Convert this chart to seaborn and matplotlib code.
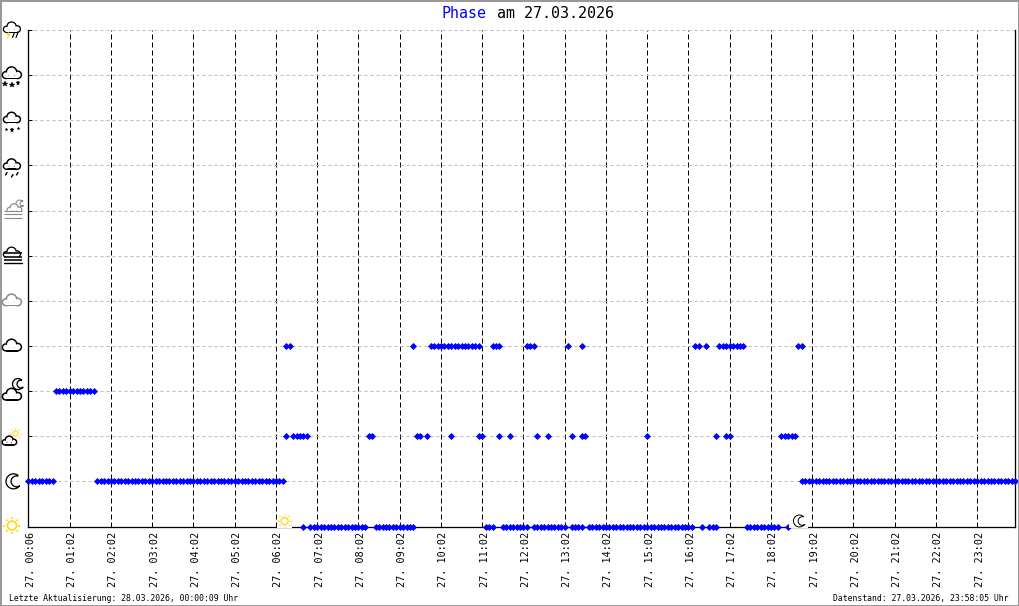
import numpy as np
import pandas as pd
import matplotlib
matplotlib.use("Agg")
import matplotlib.pyplot as plt
from matplotlib.patches import Circle, Rectangle, Polygon
from matplotlib.transforms import ScaledTranslation
import seaborn as sns

# ---- data (sample number, first..last of each run) ----
title_word = "Phase"
title_rest = "am 27.03.2026"
footer_left = "Letzte Aktualisierung: 28.03.2026, 00:00:09 Uhr"
footer_right = "Datenstand: 27.03.2026, 23:58:05 Uhr"
tick_samples = [0, 12, 24, 36, 48, 60, 72, 84, 96, 108, 120, 132, 144, 156, 168,
                180, 192, 204, 216, 228, 240, 252, 264, 276]
tick_labels = ["27. 00:06", "27. 01:02", "27. 02:02", "27. 03:02", "27. 04:02", "27. 05:02",
               "27. 06:02", "27. 07:02", "27. 08:02", "27. 09:02", "27. 10:02", "27. 11:02",
               "27. 12:02", "27. 13:02", "27. 14:02", "27. 15:02", "27. 16:02", "27. 17:02",
               "27. 18:02", "27. 19:02", "27. 20:02", "27. 21:02", "27. 22:02", "27. 23:02"]
clear_day = [(80, 80), (82, 98), (101, 112), (133, 134), (135, 135), (138, 145), (147, 156),
             (158, 161), (163, 193), (196, 196), (198, 200), (209, 218), (221, 221)]
clear_night = [(0, 7), (20, 74), (225, 287)]
partly_day = [(75, 75), (77, 81), (99, 100), (113, 114), (116, 116), (123, 123), (131, 132),
              (137, 137), (140, 140), (148, 148), (151, 151), (158, 158), (161, 162),
              (180, 180), (200, 200), (203, 204), (219, 223)]
partly_night = [(8, 19)]
cloudy = [(75, 76), (112, 112), (117, 131), (135, 137), (145, 147), (157, 157), (161, 161),
          (194, 195), (197, 197), (201, 208), (224, 225)]
phase_runs = {0: clear_day, 1: clear_night, 2: partly_day, 3: partly_night, 4: cloudy}
sunrise_sample = 74.5
sunset_sample = 224

rows = [(s, lvl) for lvl, runs in phase_runs.items()
        for a, b in runs for s in range(a, b + 1)]
df = pd.DataFrame(rows, columns=["sample", "phase"])

# ---- figure ----
sns.set_theme(style="white")
plt.rcParams["font.family"] = ["DejaVu Sans Mono"]
plt.rcParams["lines.scale_dashes"] = False
W, H = 1020, 606
fig = plt.figure(figsize=(W / 100, H / 100), dpi=100, facecolor="white")
L, R, T, B = 28.5, 1015.0, 30.0, 526.5
ax = fig.add_axes([L / W, 1 - B / H, (R - L) / W, (B - T) / H])
px = 0.72

ax.set_xlim(0, 287)
ax.set_ylim(0, 11)
ax.set_axisbelow(True)
ax.set_xticks(tick_samples)
ax.set_xticklabels(tick_labels, rotation=90, fontsize=7.3, color="black", va="top", ha="center")
ax.set_yticks(range(12))
ax.set_yticklabels([])
ax.xaxis.grid(True, color="black", lw=1 * px, linestyle=(0, (5 * px, 3 * px)))
ax.yaxis.grid(True, color="#bbbbbb", lw=1 * px, linestyle=(0, (3 * px, 3 * px)))
ax.tick_params(axis="x", length=0, pad=4.2)
ax.tick_params(axis="y", direction="in", length=3, width=1 * px, color="black", left=True, pad=0)
off = ScaledTranslation(2.5 / 100, 0, fig.dpi_scale_trans)
for lab in ax.get_xticklabels():
    lab.set_transform(lab.get_transform() + off)
ax.spines["top"].set_visible(False)
for side in ("left", "right", "bottom"):
    ax.spines[side].set_color("black")
    ax.spines[side].set_linewidth(1.3 * px)

sns.scatterplot(data=df, x="sample", y="phase", marker="D", s=13, color="#0000ff",
                linewidth=0, clip_on=False, zorder=3, ax=ax, legend=False)
ax.set_xlabel("")
ax.set_ylabel("")

# ---- overlay in pixel coordinates: frame, texts, icons ----
ov = fig.add_axes([0, 0, 1, 1], facecolor="none")
ov.set_xlim(0, W)
ov.set_ylim(H, 0)
ov.axis("off")
ov.add_patch(Rectangle((0.5, 0.5), W - 1, H - 1, fill=False, ec="#999999", lw=2 * px))

ov.text(442, 13.5, title_word, color="#0000ff", fontsize=10.8, va="center", ha="left")
ov.text(497, 13.5, title_rest, color="black", fontsize=10.8, va="center", ha="left")
ov.text(9.5, 598.5, footer_left, color="black", fontsize=5.85, va="center", ha="left")
ov.text(1009, 598.5, footer_right, color="black", fontsize=5.85, va="center", ha="right")

YEL = "#ffd400"
GRY = "#888888"


def level_y(level):
    return B - (B - T) * level / 11


def sample_x(s):
    return L + (R - L) * s / 287


def cloud(cx, cy, k=1.0, color="black", lw=1.5, z=5):
    parts = [(-6.5, 1.5, 3.6), (-0.5, -1.6, 5.5), (6, 1.2, 3.9)]
    for grow, col, zz in ((lw / 2, color, z), (-lw / 2, "white", z + 0.1)):
        for dx, dy, r in parts:
            ov.add_patch(Circle((cx + dx * k, cy + dy * k), r * k + grow, fc=col, ec="none", zorder=zz))
        ov.add_patch(Rectangle((cx - 6.5 * k, cy + 1.2 * k - grow), 12.5 * k,
                               3.9 * k + 2 * grow, fc=col, ec="none", zorder=zz))


def sun(cx, cy, r=4.5, ray=8.5, color=YEL, lw=1.6, z=5):
    ov.add_patch(Circle((cx, cy), r, fc="white", ec=color, lw=lw * px, zorder=z))
    for a in np.arange(0, 360, 45):
        c, s = np.cos(np.radians(a)), np.sin(np.radians(a))
        ov.plot([cx + (r + 2) * c, cx + ray * c], [cy + (r + 2) * s, cy + ray * s],
                color=color, lw=lw * px, zorder=z, solid_capstyle="butt")


def moon(cx, cy, r=7.5, color="black", lw=1.3, z=5):
    a = np.radians(np.linspace(55, 325, 40))
    outer = np.c_[cx + r * np.cos(a), cy - r * np.sin(a)]
    b = np.radians(np.linspace(305, 75, 40))
    inner = np.c_[cx + 3 + 0.72 * r * np.cos(b), cy - 0.72 * r * np.sin(b)]
    ov.add_patch(Polygon(np.r_[outer, inner], closed=True, fc="white", ec=color, lw=lw * px, zorder=z))


def bars(x0, x1, ys, color="black", lw=1.2, z=6):
    for y in ys:
        ov.plot([x0, x1], [y, y], color=color, lw=lw * px, zorder=z, solid_capstyle="butt")


# y-axis icons, one per phase level
ix = 12.0
sun(ix, level_y(0) - 1)
moon(13.5, level_y(1))
sun(15.5, level_y(2) - 2.5, r=2.6, ray=6, lw=1.0)
cloud(9.5, level_y(2) + 5, k=0.72)
moon(18, level_y(3) - 7, r=5.5)
cloud(12, level_y(3) + 4, k=0.95, lw=1.6, z=6)
cloud(12, level_y(4), k=0.95)
cloud(12, level_y(5), k=0.95, color=GRY)

cloud(12, level_y(6) - 2.5, k=0.85, lw=1.3)
ov.add_patch(Rectangle((3, level_y(6) + 1), 20, 9, fc="white", ec="none", zorder=5.5))
bars(4, 22, [level_y(6) - 3, level_y(6) + 1, level_y(6) + 4.3], lw=1.6)
ov.plot([4, 22], [level_y(6) + 7.5] * 2, color="black", lw=1.4 * px, zorder=6)

moon(19.5, level_y(7) - 7, r=3.5, color=GRY, lw=1)
cloud(14.5, level_y(7) - 1.5, k=0.75, color=GRY, lw=1.2)
ov.add_patch(Rectangle((3, level_y(7) + 0.5), 23, 9, fc="white", ec="none", zorder=5.5))
bars(4, 22, [level_y(7), level_y(7) + 3.5, level_y(7) + 7], color=GRY, lw=1.1)

cloud(12, level_y(8) - 0.5, k=0.85)
for dx, dy in ((-6, 8.5), (0, 10.5), (5, 8.5)):
    ov.plot([ix + dx + 1, ix + dx - 0.5], [level_y(8) + dy - 1.3, level_y(8) + dy + 1],
            color="black", lw=1.5 * px, zorder=6)

cloud(12, level_y(9) - 2, k=0.85)
for dx, dy, ms in ((-6, 8.5, 2), (0, 9.5, 3.6), (6, 7.5, 2)):
    ov.plot(ix + dx, level_y(9) + dy, marker="*", ms=ms, mfc="black", mec="black", mew=0.3, zorder=6)

cloud(12, level_y(10) - 1.5, k=0.95)
for dx, dy, ms in ((-6.5, 8.5, 4), (0.5, 9.5, 4.4), (6.5, 7.5, 3.6)):
    ov.plot(ix + dx, level_y(10) + dy, marker="*", ms=ms, mfc="black", mec="black", mew=0.3, zorder=6)

cloud(12, level_y(11) - 2, k=0.85, lw=1.3)
for dx in (1.5, 5):
    ov.plot([ix + dx + 1, ix + dx - 1], [level_y(11) + 2.5, level_y(11) + 7.5],
            color="black", lw=1.2 * px, zorder=6)
ov.add_patch(Polygon([(9, level_y(11) + 1), (6, level_y(11) + 5), (8, level_y(11) + 5),
                      (6.5, level_y(11) + 10), (10.5, level_y(11) + 4), (8.5, level_y(11) + 4)],
                     closed=True, fc=YEL, ec="none", zorder=7))

# sunrise and sunset markers on the baseline
sx = sample_x(sunrise_sample)
ov.add_patch(Rectangle((sx - 8, B - 14), 15.5, 15.5, fc="white", ec="none", zorder=4.5))
sun(sx, B - 5.5, r=3.6, ray=7.2, lw=1.2)
mx = sample_x(sunset_sample)
ov.add_patch(Rectangle((mx - 9, B - 14), 19, 15.5, fc="white", ec="none", zorder=4.5))
moon(mx + 1, B - 5.5, r=6.0, lw=1.0)

fig.savefig("out.png", dpi=100, facecolor="white")
